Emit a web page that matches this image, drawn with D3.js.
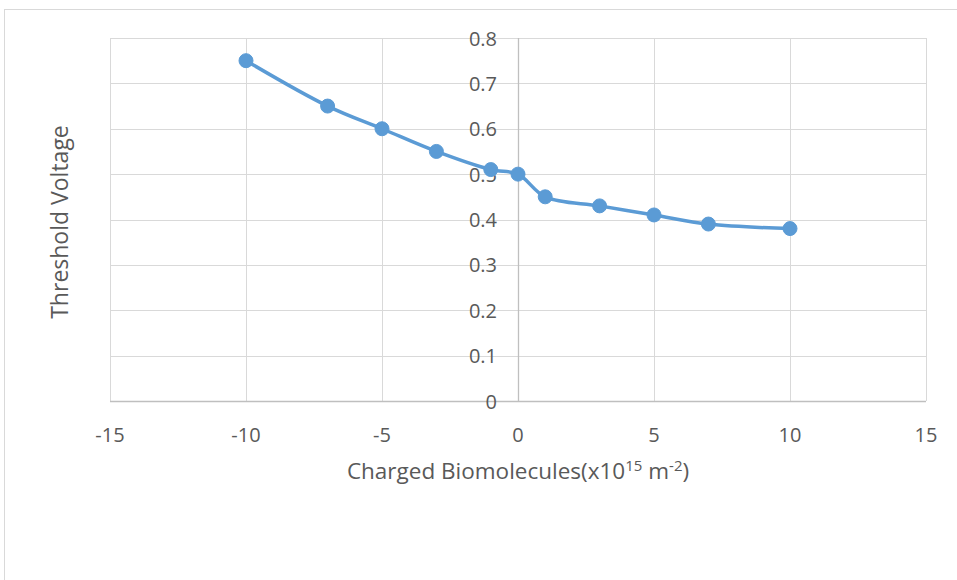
<!DOCTYPE html>
<html><head><meta charset="utf-8">
<script src="https://cdn.jsdelivr.net/npm/d3@7"></script>
<style>body{margin:0;background:#fff;} text{font-family:"Open Sans",sans-serif;}</style>
</head><body>
<svg id="c" width="957" height="580"></svg>
<script>
const xValues = [-10, -7, -5, -3, -1, 0, 1, 3, 5, 7, 10];
const yValues = [0.75, 0.65, 0.6, 0.55, 0.51, 0.5, 0.45, 0.43, 0.41, 0.39, 0.38];
const xTicks = [-15, -10, -5, 0, 5, 10, 15];
const yTicks = [0, 0.1, 0.2, 0.3, 0.4, 0.5, 0.6, 0.7, 0.8];
const xTitle = "Charged Biomolecules(x10";
const yTitle = "Threshold Voltage";

const svg = d3.select("#c");
svg.append("rect").attr("x", 4.5).attr("y", 9.5).attr("width", 1000).attr("height", 1000)
  .attr("fill", "none").attr("stroke", "#d9d9d9").attr("stroke-width", 1);

const x = d3.scaleLinear().domain([-15, 15]).range([110, 926]);
const y = d3.scaleLinear().domain([0, 0.8]).range([401, 38]);
const g = svg.append("g");

// grid
g.selectAll(".hg").data(yTicks).join("line")
  .attr("x1", x(-15)).attr("x2", x(15))
  .attr("y1", d => Math.round(y(d)) + 0.5).attr("y2", d => Math.round(y(d)) + 0.5)
  .attr("stroke", "#d9d9d9").attr("stroke-width", 1);
g.selectAll(".vg").data(xTicks).join("line")
  .attr("x1", d => Math.round(x(d)) + 0.5).attr("x2", d => Math.round(x(d)) + 0.5)
  .attr("y1", y(0.8)).attr("y2", y(0))
  .attr("stroke", "#d9d9d9").attr("stroke-width", 1);
// axes lines
g.append("line").attr("x1", x(-15)).attr("x2", x(15)).attr("y1", Math.round(y(0)) + 0.5).attr("y2", Math.round(y(0)) + 0.5)
  .attr("stroke", "#bfbfbf").attr("stroke-width", 1.3);
g.append("line").attr("x1", Math.round(x(0)) + 0.5).attr("x2", Math.round(x(0)) + 0.5).attr("y1", y(0.8)).attr("y2", y(0))
  .attr("stroke", "#bfbfbf").attr("stroke-width", 1.3);

// tick labels
g.selectAll(".xl").data(xTicks).join("text")
  .attr("x", d => x(d)).attr("y", 442).attr("text-anchor", "middle")
  .attr("font-size", 20).attr("fill", "#595959").text(d => d);
g.selectAll(".yl").data(yTicks).join("text")
  .attr("x", 497).attr("y", d => y(d) + 7.5).attr("text-anchor", "end")
  .attr("font-size", 20).attr("fill", "#595959").text(d => d);

// titles
const xt = svg.append("text").attr("x", 518).attr("y", 479).attr("text-anchor", "middle")
  .attr("font-size", 22.5).attr("fill", "#595959");
xt.append("tspan").text(xTitle);
xt.append("tspan").attr("font-size", 15).attr("dy", -8).text("15");
xt.append("tspan").attr("dy", 8).text(" m");
xt.append("tspan").attr("font-size", 15).attr("dy", -8).text("-2");
xt.append("tspan").attr("dy", 8).text(")");
svg.append("text").attr("transform", "translate(68,222) rotate(-90)").attr("text-anchor", "middle")
  .attr("font-size", 23).attr("fill", "#595959").text(yTitle);

// line
const data = xValues.map((v, i) => [v, yValues[i]]);
g.append("path").datum(data)
  .attr("d", d3.line().x(d => x(d[0])).y(d => y(d[1])).curve(d3.curveCatmullRom.alpha(0.5)))
  .attr("fill", "none").attr("stroke", "#5b9bd5").attr("stroke-width", 3.5).attr("stroke-linecap", "round");
g.selectAll(".pt").data(data).join("circle")
  .attr("cx", d => x(d[0])).attr("cy", d => y(d[1])).attr("r", 7)
  .attr("fill", "#5b9bd5").attr("stroke", "#5b9bd5").attr("stroke-width", 1);
</script>
</body></html>
